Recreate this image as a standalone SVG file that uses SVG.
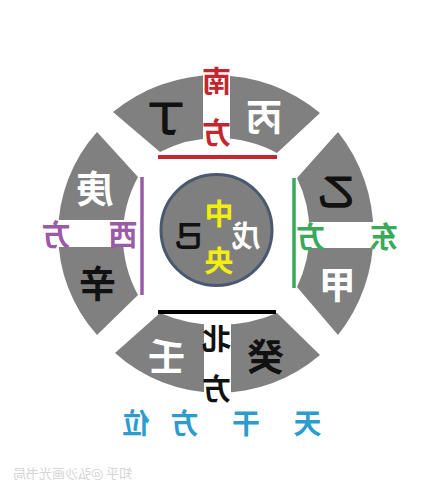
<svg xmlns="http://www.w3.org/2000/svg" width="431" height="494" viewBox="0 0 431 494">
<style>
.sec{fill:#808080}
.strip{fill:#ffffff}
text{font-family:"Noto Sans CJK SC","Noto Sans",sans-serif;font-weight:bold;text-anchor:middle;dominant-baseline:central}
.big{font-size:37px}
.dir{font-size:29px}
.blk{fill:#111111}
.wht{fill:#ffffff}
.red{fill:#c3262e}
.pur{fill:#9b5aa7}
.grn{fill:#3aa95a}
.yel{fill:#f4ee10}
.ttl{fill:#2c9ccf;font-size:28px}
.wm{fill:#d4d4d4;font-size:13px;font-weight:normal}
</style>
<rect width="431" height="494" fill="#ffffff"/>
<g id="south">
<path class="sec" d="M113,112 A162,162 0 0 1 320,113 L277,153 A125,125 0 0 0 160,152 Z"/>
<rect class="strip" x="203" y="62" width="27" height="92"/>
<text class="big blk" transform="translate(166,116) scale(-1,1)">丁</text>
<text class="big wht" transform="translate(264,115) scale(-1,1)">丙</text>
<text class="dir red" transform="translate(216.5,79) scale(-1,1)">南</text>
<text class="dir red" transform="translate(216.5,130.5) scale(-1,1)">方</text>
</g>
<g id="west">
<path class="sec" d="M97,335 A152,152 0 0 1 97,132 L138,177 A123,123 0 0 0 138,295 Z"/>
<rect class="strip" x="42" y="220" width="96" height="27"/>
<text class="big wht" transform="translate(95,187) scale(-1,1)">庚</text>
<text class="big blk" transform="translate(97.5,281.5) scale(-1,1)">辛</text>
<text class="dir pur" transform="translate(123,233) scale(-1,1)">西</text>
<text class="dir pur" transform="translate(56,233) scale(-1,1)">方</text>
</g>
<g id="east">
<path class="sec" d="M338,132 A163,163 0 0 1 338,335 L297,287 A125,125 0 0 0 297,178 Z"/>
<rect class="strip" x="296" y="222" width="104" height="26"/>
<text class="big blk" transform="translate(336.5,190) scale(-1,1)">乙</text>
<text class="big wht" transform="translate(337.5,282.5) scale(-1,1)">甲</text>
<text class="dir grn" transform="translate(310.5,235) scale(-1,1)">方</text>
<text class="dir grn" transform="translate(384,235) scale(-1,1)">东</text>
</g>
<g id="north">
<path class="sec" d="M320,355 A155,155 0 0 1 115,353 L160,313 A148,148 0 0 0 277,313 Z"/>
<rect class="strip" x="204" y="318" width="27" height="84"/>
<text class="big wht" transform="translate(166.5,355) scale(-1,1)">壬</text>
<text class="big blk" transform="translate(265.5,355) scale(-1,1)">癸</text>
<text class="dir blk" transform="translate(216.5,337) scale(-1,1)">北</text>
<text class="dir blk" transform="translate(216.5,386.5) scale(-1,1)">方</text>
</g>
<g id="center">
<circle cx="216.5" cy="230" r="55.5" fill="#7f7f7f" stroke="#4a5870" stroke-width="3"/>
<text class="dir yel" transform="translate(219,211.5) scale(-1,1)">中</text>
<text class="dir yel" transform="translate(219,258.5) scale(-1,1)">央</text>
<text class="dir blk" transform="translate(189.5,233.5) scale(-1,1)">己</text>
<text class="dir wht" transform="translate(246,234) scale(-1,1)">戊</text>
</g>
<g id="connectors">
<line x1="158" y1="157" x2="277" y2="157" stroke="#c3262e" stroke-width="4"/>
<line x1="158" y1="312" x2="276" y2="312" stroke="#000000" stroke-width="4"/>
<line x1="142" y1="177" x2="142" y2="295" stroke="#9b5aa7" stroke-width="3.5"/>
<line x1="294" y1="178" x2="294" y2="288" stroke="#3aa95a" stroke-width="3.5"/>
</g>
<g id="title">
<text class="ttl" transform="translate(136,421.5) scale(-1,1)">位</text>
<text class="ttl" transform="translate(184.5,421.5) scale(-1,1)">方</text>
<text class="ttl" transform="translate(246,421.5) scale(-1,1)">干</text>
<text class="ttl" transform="translate(307.5,421.5) scale(-1,1)">天</text>
</g>
<g id="watermark">
<text class="wm" transform="translate(72.5,472) scale(-1,1)">知乎 @弘沙画光书局</text>
</g>
</svg>
